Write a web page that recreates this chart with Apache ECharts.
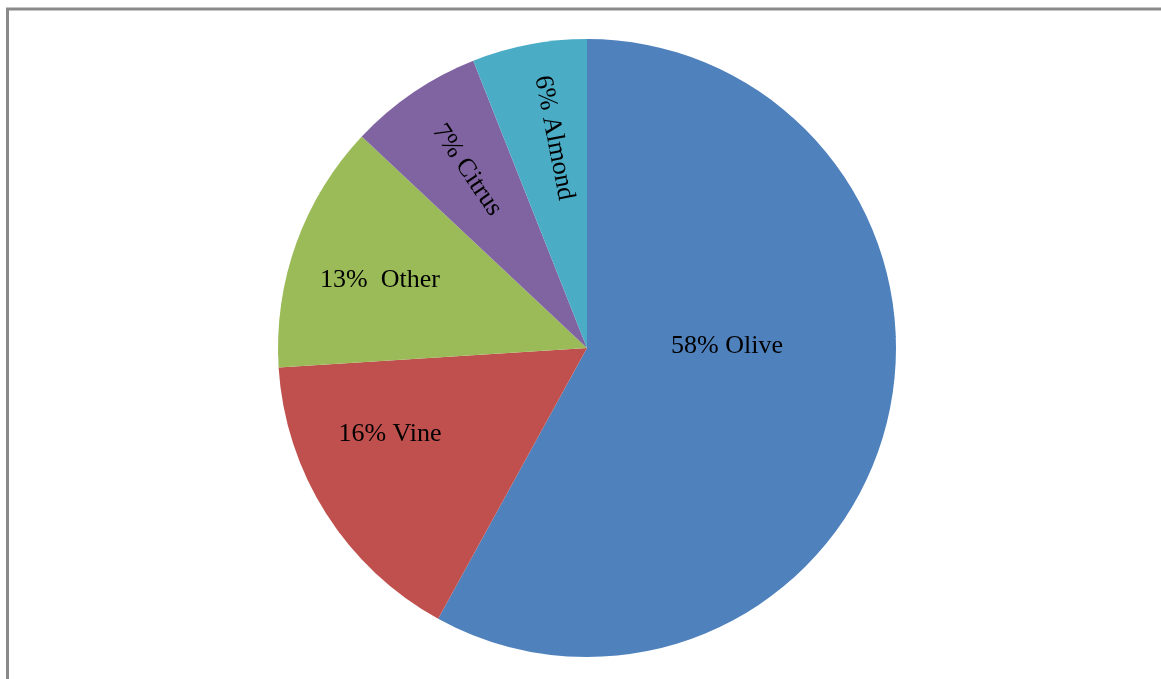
<!DOCTYPE html>
<html><head><meta charset="utf-8">
<script src="https://cdn.jsdelivr.net/npm/echarts@6/dist/echarts.min.js"></script>
<style>html,body{margin:0;padding:0;background:#fff}#c{width:1161px;height:679px}</style>
</head><body><div id="c"></div>
<script>
const categories = ['Olive', 'Vine', 'Other', 'Citrus', 'Almond'];
const values = [58, 16, 13, 7, 6];
const colors = ['#4F81BD', '#C0504D', '#9BBB59', '#8064A2', '#4BACC6'];
const labelSeparators = [' ', ' ', '\u00a0 ', ' ', ' '];

// layout (label placement relative to pie centre, and rotation in degrees)
const CX = 587, CY = 348, R = 309;
const labelOffsets = [[140, -2], [-197, 86], [-207, -68], [-120, -178], [-33, -210]];
const labelRotations = [0, 0, 0, -56, -79];

const chart = echarts.init(document.getElementById('c'), null, {renderer: 'canvas'});
chart.setOption({
  animation: false,
  backgroundColor: '#ffffff',
  graphic: [{
    type: 'rect',
    shape: {x: 7.5, y: 9, width: 1400, height: 900},
    style: {fill: 'none', stroke: '#8a8a8a', lineWidth: 3},
    silent: true
  }],
  series: [{
    type: 'pie',
    center: [CX, CY],
    radius: [0, R],
    startAngle: 90,
    clockwise: true,
    avoidLabelOverlap: false,
    itemStyle: {borderWidth: 0},
    label: {
      show: true,
      position: 'inside',
      color: '#000',
      fontFamily: '"Liberation Serif", "Times New Roman", serif',
      fontSize: 26,
      formatter: p => p.value + '%' + labelSeparators[p.dataIndex] + p.name
    },
    labelLayout: function (p) {
      const o = labelOffsets[p.dataIndex];
      return {x: CX + o[0], y: CY + o[1], rotate: labelRotations[p.dataIndex]};
    },
    emphasis: {disabled: true},
    data: categories.map((c, i) => ({
      name: c, value: values[i], itemStyle: {color: colors[i]}
    }))
  }]
});
</script></body></html>
